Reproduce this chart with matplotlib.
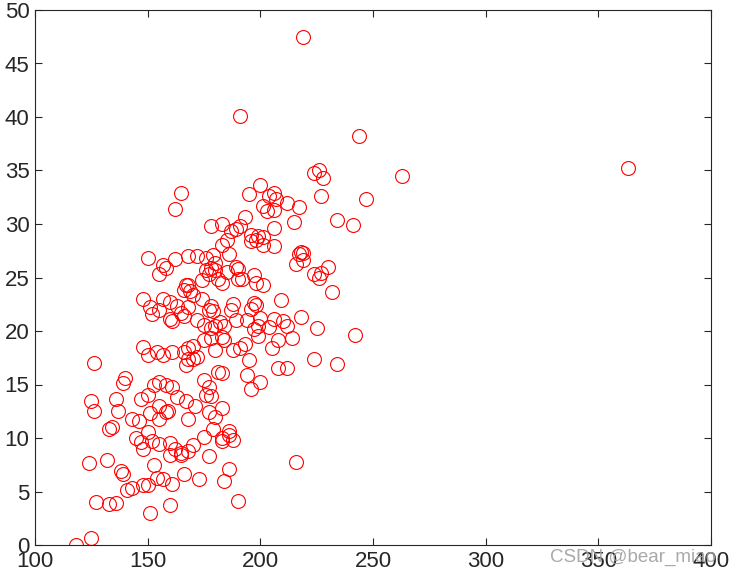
import numpy as np
import matplotlib.pyplot as plt

plt.rcParams['font.family'] = ['Liberation Sans', 'DejaVu Sans']

# values, (x, y) pairs
x = [219, 191, 244, 263, 363, 224, 226, 228, 200, 195, 204, 206, 207, 212, 201, 203, 206,
     217, 227, 247, 165, 162, 193, 234, 215, 241, 178, 183, 187, 189, 191, 196, 198, 199,
     201, 206, 185, 183, 201, 206, 196, 168, 172, 176, 179, 180, 186, 217, 218, 219, 216,
     219, 230, 224, 226, 227, 232, 150, 157, 158, 155, 162, 176, 177, 178, 180, 185, 189,
     190, 190, 192, 197, 198, 201, 183, 181, 174, 167, 168, 166, 169, 170, 148, 157, 160,
     163, 174, 178, 179, 177, 188, 187, 196, 197, 198, 200, 209, 151, 152, 155, 160, 161,
     165, 166, 168, 172, 175, 178, 180, 182, 184, 189, 194, 197, 199, 204, 206, 210, 212,
     218, 225, 242, 148, 150, 154, 157, 161, 166, 168, 170, 168, 172, 175, 178, 180, 183,
     184, 188, 191, 193, 199, 205, 208, 214, 126, 140, 139, 153, 155, 158, 161, 167, 170,
     175, 177, 181, 183, 195, 194, 200, 196, 208, 212, 224, 234, 125, 126, 136, 137, 147,
     150, 151, 155, 158, 159, 163, 167, 171, 176, 178, 183, 177, 180, 150, 152, 155, 145,
     147, 148, 133, 134, 143, 146, 155, 160, 162, 165, 168, 170, 175, 179, 183, 186, 188,
     168, 186, 124, 132, 138, 139, 153, 160, 165, 177, 186, 183, 148, 150, 143, 141, 157,
     154, 161, 173, 166, 184, 127, 133, 136, 151, 160, 190, 216, 118, 125]
y = [47.5, 40.1, 38.2, 34.5, 35.2, 34.8, 35.0, 34.3, 33.6, 32.8, 32.6, 32.9, 32.3, 32.0,
     31.7, 31.2, 31.3, 31.6, 32.6, 32.3, 32.9, 31.4, 30.7, 30.4, 30.2, 29.9, 29.8, 30.0,
     29.3, 29.5, 29.8, 29.0, 28.5, 28.9, 28.8, 29.6, 28.5, 28.0, 28.0, 27.9, 28.4, 27.0,
     27.0, 26.8, 27.1, 26.4, 27.2, 27.2, 27.4, 27.3, 26.3, 26.6, 26.0, 25.3, 25.0, 25.4,
     23.6, 26.8, 26.2, 25.9, 25.3, 26.7, 25.7, 25.3, 25.9, 25.7, 25.5, 26.0, 25.8, 24.9,
     24.9, 25.2, 24.5, 24.3, 24.5, 24.9, 24.8, 24.3, 24.3, 23.8, 23.7, 23.4, 23.0, 23.0,
     22.7, 22.3, 23.0, 22.3, 21.9, 22.0, 22.5, 22.0, 22.1, 22.6, 22.4, 21.2, 22.9, 22.2,
     21.6, 22.0, 21.1, 20.9, 21.7, 21.4, 22.2, 21.0, 20.6, 20.3, 20.5, 20.8, 20.5, 21.0,
     21.0, 20.2, 20.5, 20.4, 21.1, 20.9, 20.5, 21.3, 20.3, 19.6, 18.5, 17.8, 18.0, 17.8,
     18.0, 18.0, 18.4, 18.6, 17.4, 17.6, 19.2, 19.3, 18.2, 19.4, 19.2, 18.2, 18.4, 18.8,
     19.5, 18.4, 19.2, 19.3, 17.0, 15.6, 15.1, 15.0, 15.2, 15.0, 14.8, 16.8, 17.4, 15.4,
     14.8, 16.2, 16.1, 17.3, 15.9, 15.2, 14.6, 16.5, 16.5, 17.4, 16.9, 13.5, 12.5, 13.6,
     12.5, 13.6, 14.0, 12.3, 13.0, 12.4, 12.5, 13.8, 13.5, 13.0, 14.0, 13.9, 12.8, 12.4,
     12.0, 10.6, 9.7, 9.4, 10.0, 9.6, 9.0, 10.8, 11.0, 11.8, 11.6, 11.8, 9.5, 9.0, 8.6,
     8.8, 9.3, 10.1, 10.8, 10.0, 10.3, 9.8, 11.8, 10.7, 7.7, 7.9, 6.9, 6.6, 7.5, 8.4, 8.4,
     8.3, 7.1, 9.7, 5.6, 5.6, 5.3, 5.1, 6.2, 6.3, 5.7, 6.2, 6.6, 6.0, 4.0, 3.8, 3.9, 3.0,
     3.7, 4.1, 7.8, 0.0, 0.7]

xticks = [100, 150, 200, 250, 300, 350, 400]
yticks = [0, 5, 10, 15, 20, 25, 30, 35, 40, 45, 50]

fig = plt.figure(figsize=(7.31, 5.77), dpi=100)
ax = fig.add_axes([35/731, 32/577, 676/731, 535/577])

ax.plot(x, y, 'o', mfc='none', mec='red', ms=10, mew=0.8)

ax.set_xlim(100, 400)
ax.set_ylim(0, 50)
ax.set_xticks(xticks)
ax.set_yticks(yticks)
ax.tick_params(direction='in', length=5, width=0.8, labelsize=16,
               colors='#262626', pad=4, top=True, right=True)
for s in ax.spines.values():
    s.set_color('#262626')
    s.set_linewidth(0.8)

fig.text(0.979, 0.026, 'CSDN @bear_miao', ha='right', va='baseline',
         fontsize=13.5, color='#a0a0a0', alpha=0.9)

fig.savefig('out.png', dpi=100)
